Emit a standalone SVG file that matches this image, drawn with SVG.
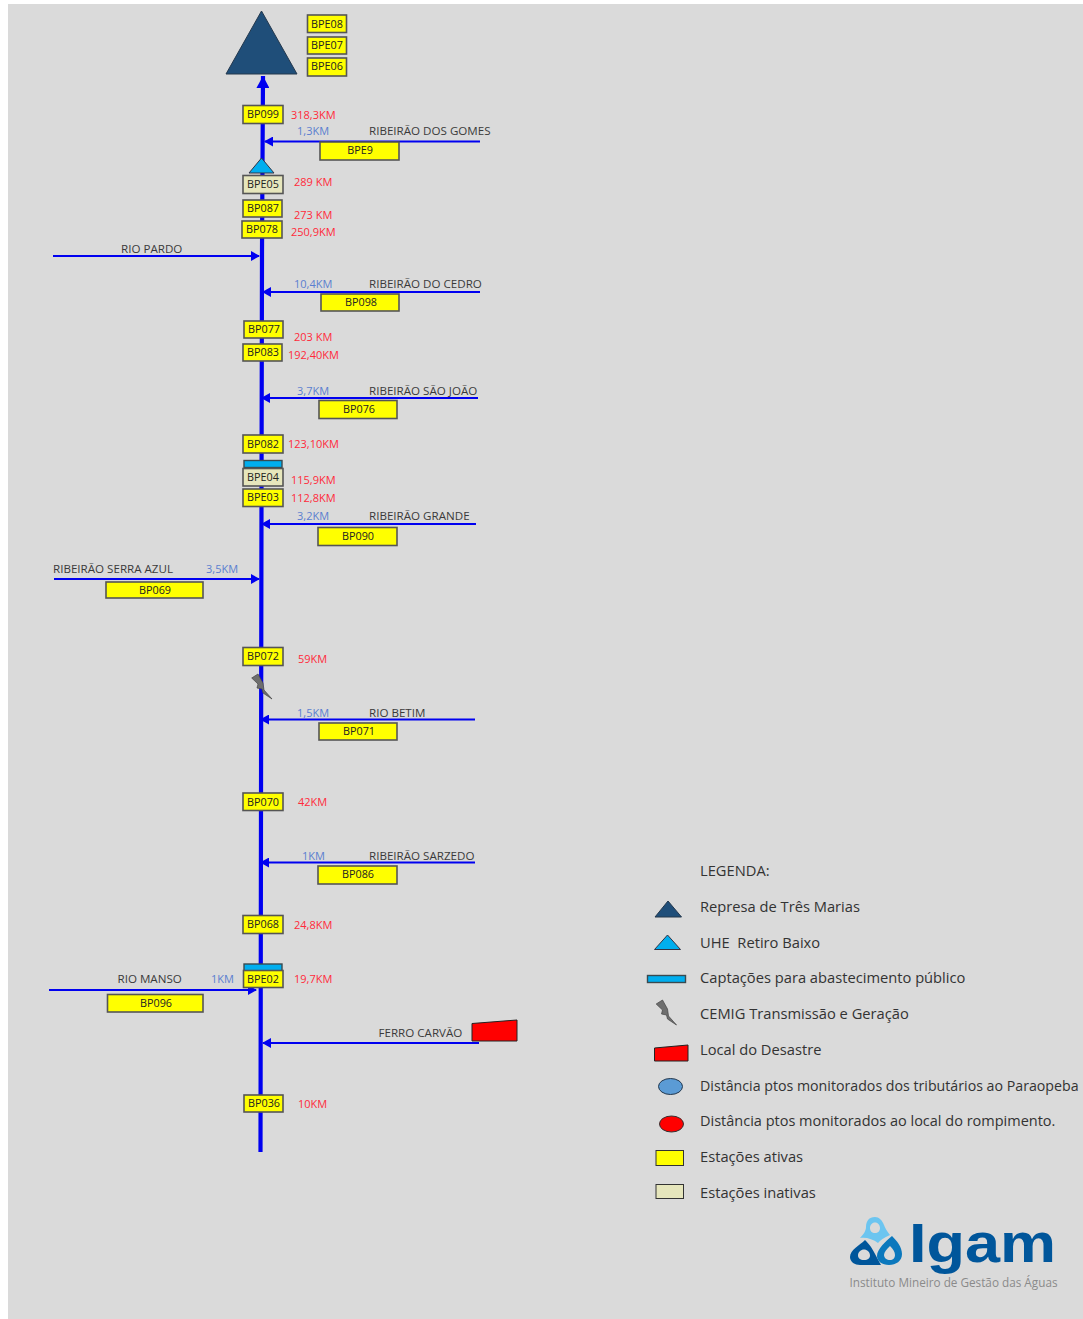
<svg xmlns="http://www.w3.org/2000/svg" width="1083" height="1319" viewBox="0 0 1083 1319">
<style>
text{font-family:"Open Sans","Noto Sans","Liberation Sans",sans-serif;font-size:11px}
.b{fill:#ffff00;stroke:#555;stroke-width:1.6}
.i{fill:#e6e6bc;stroke:#555;stroke-width:1.6}
.t{text-anchor:middle;fill:#222;font-size:10.800px}
.r{fill:#ff2a3a}
.k{fill:#5b7fd0}
.n{fill:#3a3a3a;font-size:11.600px}
.a{fill:none;stroke:#0000f0;stroke-width:2;marker-end:url(#h)}
.c{fill:#00aeef;stroke:#3a4a50;stroke-width:1.4}
.l{font-size:14.700px;fill:#333;white-space:pre}
</style>
<defs>
<marker id="h" markerUnits="userSpaceOnUse" markerWidth="9" markerHeight="10" refX="8" refY="5" orient="auto"><path d="M0 0L9 5L0 10z" fill="#0000f0"/></marker>
<marker id="H" markerUnits="userSpaceOnUse" markerWidth="13" markerHeight="13" refX="12" refY="6.500" orient="auto"><path d="M0 0L12 6.500L0 13z" fill="#0000f0"/></marker>
<path id="bolt" d="M-9.300-9L-3-13L2-4L3 3L11 12L2 6L1 2L-4 1L-3-3Z" fill="#6e6e6e" stroke="#444" stroke-width=".7"/>
</defs>
<rect width="1083" height="1319" fill="#fff"/>
<rect x="8" y="4" width="1075" height="1315" fill="#dadada"/>
<g id="connectors">
<path d="M260.500 1152L261 800L261.500 500L262 250L263 76" fill="none" stroke="#0000f0" stroke-width="4.200" marker-end="url(#H)"/>
<path class="a" d="M480 141.500H265"/>
<path class="a" d="M53 256H259"/>
<path class="a" d="M480 292H263"/>
<path class="a" d="M478 398H262"/>
<path class="a" d="M476 524H262"/>
<path class="a" d="M54 579H259"/>
<path class="a" d="M475 719.500H261"/>
<path class="a" d="M475 862.500H261"/>
<path class="a" d="M49 990H256"/>
<path class="a" d="M479 1043H263"/>
</g>
<g id="represa"><path d="M261.500 11L297 74H226Z" fill="#1f4e79" stroke="#24384d"/></g>
<g id="uhe"><path d="M261.500 158L274 173H249Z" fill="#00aeef" stroke="#334"/></g>
<g id="captacao1"><rect class="c" x="244" y="460.500" width="38" height="7"/></g>
<g id="captacao2"><rect class="c" x="244" y="964" width="38" height="7"/></g>
<g id="cemig"><use href="#bolt" x="261" y="687"/></g>
<g id="desastre"><path d="M472 1023.500L517 1020V1041H472Z" fill="#ff0000" stroke="#222"/></g>

<g id="BPE08"><rect class="b" x="307.500" y="15" width="39" height="17.500"/><text class="t" x="327" y="27.500">BPE08</text></g>
<g id="BPE07"><rect class="b" x="307.500" y="37" width="39" height="17"/><text class="t" x="327" y="49">BPE07</text></g>
<g id="BPE06"><rect class="b" x="307.500" y="58" width="39" height="18"/><text class="t" x="327" y="70">BPE06</text></g>
<g id="BP099"><rect class="b" x="243" y="105.500" width="40" height="18"/><text class="t" x="263" y="118">BP099</text></g>
<g id="BPE9"><rect class="b" x="320" y="142" width="79" height="18"/><text class="t" x="360" y="154">BPE9</text></g>
<g id="BPE05"><rect class="i" x="243" y="175.500" width="40" height="18"/><text class="t" x="263" y="188">BPE05</text></g>
<g id="BP087"><rect class="b" x="243" y="200" width="39" height="17"/><text class="t" x="263" y="212">BP087</text></g>
<g id="BP078"><rect class="b" x="242" y="221" width="40" height="17"/><text class="t" x="262" y="233">BP078</text></g>
<g id="BP098"><rect class="b" x="321" y="294" width="78" height="17"/><text class="t" x="361" y="306">BP098</text></g>
<g id="BP077"><rect class="b" x="244" y="321" width="39" height="17"/><text class="t" x="264" y="333">BP077</text></g>
<g id="BP083"><rect class="b" x="243" y="344" width="39" height="17"/><text class="t" x="263" y="356">BP083</text></g>
<g id="BP076"><rect class="b" x="319" y="400.500" width="78" height="18"/><text class="t" x="359" y="413">BP076</text></g>
<g id="BP082"><rect class="b" x="243" y="435" width="40" height="18"/><text class="t" x="263" y="447.500">BP082</text></g>
<g id="BPE04"><rect class="i" x="243" y="468.500" width="40" height="17.500"/><text class="t" x="263" y="481">BPE04</text></g>
<g id="BPE03"><rect class="b" x="243" y="489" width="40" height="17.500"/><text class="t" x="263" y="501">BPE03</text></g>
<g id="BP090"><rect class="b" x="318" y="527.500" width="79" height="18"/><text class="t" x="358" y="540">BP090</text></g>
<g id="BP069"><rect class="b" x="106" y="582" width="97" height="16"/><text class="t" x="155" y="593.500">BP069</text></g>
<g id="BP072"><rect class="b" x="243" y="647.500" width="40" height="18"/><text class="t" x="263" y="660">BP072</text></g>
<g id="BP071"><rect class="b" x="319" y="723" width="78" height="17"/><text class="t" x="359" y="735">BP071</text></g>
<g id="BP070"><rect class="b" x="243" y="793" width="40" height="17.500"/><text class="t" x="263" y="805.500">BP070</text></g>
<g id="BP086"><rect class="b" x="318" y="866" width="79" height="18"/><text class="t" x="358" y="878">BP086</text></g>
<g id="BP068"><rect class="b" x="243" y="915.500" width="40" height="18"/><text class="t" x="263" y="928">BP068</text></g>
<g id="BPE02"><rect class="b" x="243.500" y="970.500" width="39.500" height="17"/><text class="t" x="263" y="982.500">BPE02</text></g>
<g id="BP096"><rect class="b" x="107.500" y="994.500" width="95.500" height="17.500"/><text class="t" x="156" y="1006.500">BP096</text></g>
<g id="BP036"><rect class="b" x="244" y="1095" width="39" height="17"/><text class="t" x="264" y="1107">BP036</text></g>

<g id="labels">
<text class="r" x="291" y="118.500">318,3KM</text>
<text class="k" x="297" y="135">1,3KM</text>
<text class="n" x="369" y="135">RIBEIRÃO DOS GOMES</text>
<text class="r" x="294" y="186">289 KM</text>
<text class="r" x="294" y="219">273 KM</text>
<text class="r" x="291" y="236">250,9KM</text>
<text class="n" x="121" y="253">RIO PARDO</text>
<text class="k" x="294" y="287.500">10,4KM</text>
<text class="n" x="369" y="287.500">RIBEIRÃO DO CEDRO</text>
<text class="r" x="294" y="341">203 KM</text>
<text class="r" x="288" y="359">192,40KM</text>
<text class="k" x="297" y="394.500">3,7KM</text>
<text class="n" x="369" y="394.500">RIBEIRÃO SÃO JOÃO</text>
<text class="r" x="288" y="448">123,10KM</text>
<text class="r" x="291" y="484">115,9KM</text>
<text class="r" x="291" y="501.500">112,8KM</text>
<text class="k" x="297" y="519.500">3,2KM</text>
<text class="n" x="369" y="519.500">RIBEIRÃO GRANDE</text>
<text class="n" x="53" y="573">RIBEIRÃO SERRA AZUL</text>
<text class="k" x="206" y="573">3,5KM</text>
<text class="r" x="298" y="662.500">59KM</text>
<text class="k" x="297" y="716.500">1,5KM</text>
<text class="n" x="369" y="716.500">RIO BETIM</text>
<text class="r" x="298" y="805.500">42KM</text>
<text class="k" x="302" y="859.500">1KM</text>
<text class="n" x="369" y="859.500">RIBEIRÃO SARZEDO</text>
<text class="r" x="294" y="929">24,8KM</text>
<text class="n" x="117.500" y="983">RIO MANSO</text>
<text class="k" x="211" y="983">1KM</text>
<text class="r" x="294" y="983">19,7KM</text>
<text class="n" x="378.500" y="1036.500">FERRO CARVÃO</text>
<text class="r" x="298" y="1108">10KM</text>
</g>

<g id="legenda">
<text class="l" x="700" y="876">LEGENDA:</text>
<path d="M668 901L681.500 917H655Z" fill="#1f4e79" stroke="#24384d"/>
<text class="l" x="700" y="912">Represa de Três Marias</text>
<path d="M667.500 935L680.500 949.500H654.500Z" fill="#00aeef" stroke="#334"/>
<text class="l" x="700" y="947.500">UHE  Retiro Baixo</text>
<rect class="c" x="647.500" y="975.500" width="38" height="7"/>
<text class="l" x="700" y="983">Captações para abastecimento público</text>
<use href="#bolt" x="665.500" y="1013"/>
<text class="l" x="700" y="1019">CEMIG Transmissão e Geração</text>
<path d="M654.500 1048L688 1045V1061H654.500Z" fill="#ff0000" stroke="#222"/>
<text class="l" x="700" y="1054.500">Local do Desastre</text>
<ellipse cx="670.500" cy="1086.500" rx="12" ry="8" fill="#5b9bd5" stroke="#24384d"/>
<text class="l" x="700" y="1090.500" style="font-size:14.200px">Distância ptos monitorados dos tributários ao Paraopeba</text>
<ellipse cx="671.500" cy="1124" rx="12" ry="8" fill="#ff0000" stroke="#333"/>
<text class="l" x="700" y="1126" style="font-size:14.500px">Distância ptos monitorados ao local do rompimento.</text>
<rect x="656" y="1150.500" width="27.500" height="15" fill="#ffff00" stroke="#333"/>
<text class="l" x="700" y="1162">Estações ativas</text>
<rect x="656" y="1184.500" width="27.500" height="14" fill="#e6e6bc" stroke="#333"/>
<text class="l" x="700" y="1197.500">Estações inativas</text>
</g>

<g id="logo">
<path d="M875 1217C869 1217 866 1221 866 1227C866 1231 863 1235 860 1238C866 1237 873 1239 878 1243C880 1240 884 1238 890 1235C887 1231 885 1228 884 1225C882 1220 879 1217 875 1217ZM875 1222.500C878 1222.500 880 1225 880 1228C880 1231 878 1233 875 1233C872 1233 870 1231 870 1228C870 1225 872 1222.500 875 1222.500Z" fill="#6cc5f0" fill-rule="evenodd"/>
<path d="M865 1240C860 1245 850 1250 850 1257C850 1262 855 1265 860 1265H881C878 1260 875 1253 871 1247C869 1244 867 1242 865 1240ZM864 1249.500C867 1249.500 870 1252 870 1255.500C870 1258 868 1260 864 1260C860 1260 858 1258 858 1255.500C858 1252 861 1249.500 864 1249.500Z" fill="#00569b" fill-rule="evenodd"/>
<path d="M892 1236C886 1241 877 1249 877 1256C877 1261 882 1265 889 1265C896 1265 902 1261 902 1254C902 1247 897 1241 892 1236ZM890 1246C893 1249 895 1252 895 1255C895 1258 893 1260 890 1260C887 1260 884 1258 884 1255C884 1252 887 1249 890 1246Z" fill="#0b78bd" fill-rule="evenodd"/>
<text x="909" y="1261.500" style="font-size:56px;font-weight:700;fill:#00569b;font-family:'Liberation Sans',sans-serif" textLength="147" lengthAdjust="spacingAndGlyphs">Igam</text>
<text x="849.500" y="1286.500" style="font-size:12px;fill:#8a8a8a" textLength="208" lengthAdjust="spacingAndGlyphs">Instituto Mineiro de Gestão das Águas</text>
</g>
</svg>
